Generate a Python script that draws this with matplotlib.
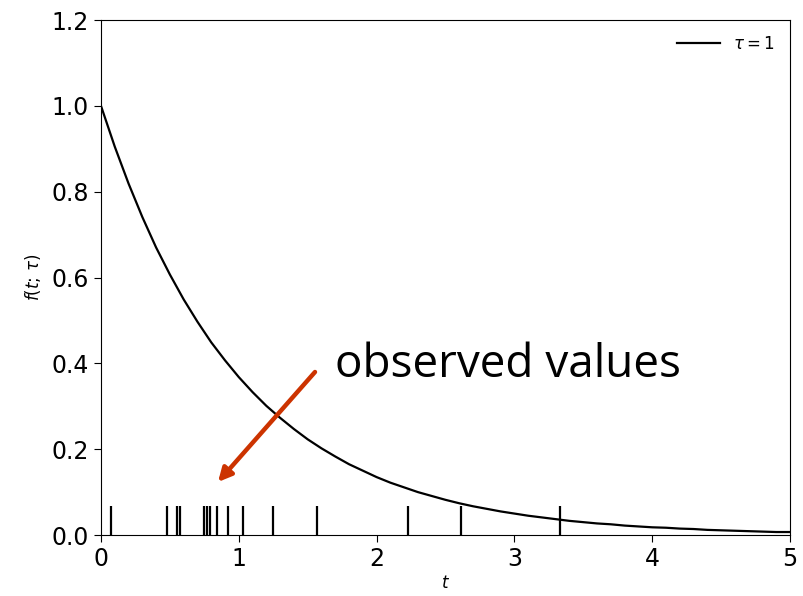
import matplotlib.pyplot as plt

# curve f(t; tau=1), every 0.1
t_vals = [i / 10 for i in range(51)]
f_vals = [1.000, 0.905, 0.819, 0.741, 0.670, 0.607, 0.549, 0.497, 0.449, 0.407,
          0.368, 0.333, 0.301, 0.273, 0.247, 0.223, 0.202, 0.183, 0.165, 0.150,
          0.135, 0.122, 0.111, 0.100, 0.091, 0.082, 0.074, 0.067, 0.061, 0.055,
          0.050, 0.045, 0.041, 0.037, 0.033, 0.030, 0.027, 0.025, 0.022, 0.020,
          0.018, 0.017, 0.015, 0.014, 0.012, 0.011, 0.010, 0.009, 0.008, 0.007,
          0.007]

# observed values (rug marks)
observed = [0.07, 0.48, 0.55, 0.57, 0.75, 0.77, 0.79, 0.84, 0.92, 1.03,
            1.25, 1.57, 2.23, 2.61, 3.33]
rug_height = 0.068

xticks = [0, 1, 2, 3, 4, 5]
yticks = [0.0, 0.2, 0.4, 0.6, 0.8, 1.0, 1.2]

fig = plt.figure(figsize=(8.04, 5.96), dpi=100)
ax = fig.add_axes([0.1256, 0.1023, 0.857, 0.8641])

ax.plot(t_vals, f_vals, color='black', lw=1.6, label=r'$\tau = 1$')
ax.vlines(observed, 0, rug_height, color='black', lw=1.6)

ax.set_xlim(0, 5)
ax.set_ylim(0, 1.2)
ax.set_xticks(xticks)
ax.set_yticks(yticks)
ax.set_xticklabels([str(v) for v in xticks])
ax.set_yticklabels(['%.1f' % v for v in yticks])
ax.tick_params(labelsize=17, length=5)
ax.set_xlabel('$t$', fontsize=12, labelpad=2)
ax.set_ylabel(r'$f(t;\,\tau)$', fontsize=12, labelpad=6)

ax.legend(loc='upper right', frameon=False, fontsize=12, handlelength=2.6)

# annotation
fig.text(335 / 804, 1 - 377 / 596, 'observed values', fontsize=33,
         family='Open Sans', va='baseline', ha='left')
ax.annotate('', xy=(218 / 804, 1 - 482 / 596), xytext=(315 / 804, 1 - 372 / 596),
            xycoords='figure fraction', textcoords='figure fraction',
            arrowprops=dict(arrowstyle='-|>', color='#cc3300', lw=3.2,
                            mutation_scale=20, shrinkA=0, shrinkB=0))

plt.savefig('out.png', dpi=100)
